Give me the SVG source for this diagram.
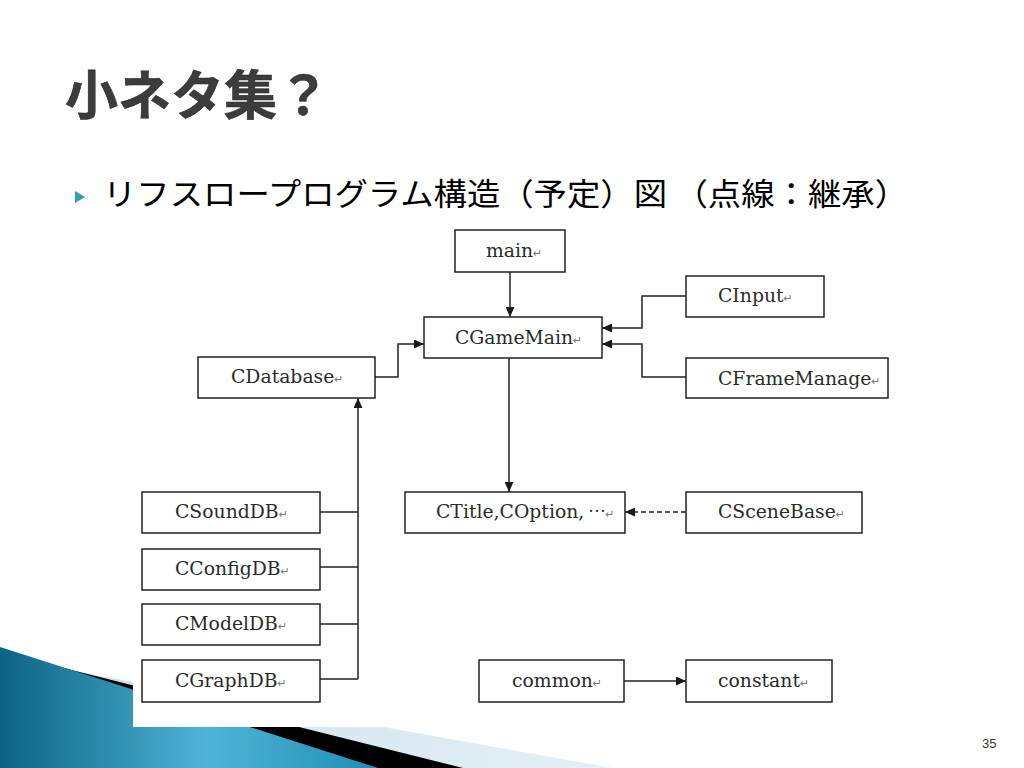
<svg xmlns="http://www.w3.org/2000/svg" width="1024" height="768" viewBox="0 0 1024 768">
<defs>
<linearGradient id="blueG" x1="0" y1="0" x2="1" y2="0">
<stop offset="0" stop-color="#0b6383"/>
<stop offset="0.55" stop-color="#4fb4d6"/>
<stop offset="1" stop-color="#1f8fb5"/>
</linearGradient>
<linearGradient id="lightG" x1="0" y1="0" x2="1" y2="0">
<stop offset="0" stop-color="#c9e0ec"/>
<stop offset="1" stop-color="#e4f0f6"/>
</linearGradient>
<marker id="arr" viewBox="0 0 10 9" refX="10" refY="4.5" markerWidth="10" markerHeight="9" markerUnits="userSpaceOnUse" orient="auto">
<path d="M0,0 L10,4.5 L0,9 z" fill="#1a1a1a"/>
</marker>
<style>
.box{fill:#fff;stroke:#222;stroke-width:1.5}
.lbl{font-family:"DejaVu Serif","Liberation Serif",serif;font-size:18.8px;fill:#2a2a2a}
.ret{font-family:"DejaVu Sans",sans-serif;font-size:11px;fill:#777}
.con{fill:none;stroke:#222;stroke-width:1.5}
.dash{stroke-dasharray:5,3}
</style>
</defs>
<rect width="1024" height="768" fill="#fff"/>
<!-- bottom-left decoration -->
<polygon points="0,658 612,768 0,768" fill="url(#lightG)"/>
<polygon points="0,652 463,768 0,768" fill="#000"/>
<polygon points="0,647 378,768 0,768" fill="url(#blueG)"/>
<!-- pasted diagram background -->
<rect x="133" y="222" width="790" height="505" fill="#fff"/>
<!-- title -->
<text x="65" y="115" font-family="Noto Sans CJK JP, sans-serif" font-weight="bold" font-size="53" fill="#3c3c3c" stroke="#2a2a2a" stroke-width="0.6">小ネタ集？</text>
<!-- bullet -->
<polygon points="75,191 85,197 75,203" fill="#2e9dbb"/>
<text x="103" y="205" font-family="Noto Sans CJK JP, sans-serif" font-size="31" fill="#000" textLength="805" lengthAdjust="spacingAndGlyphs">リフスロープログラム構造（予定）図 （点線：継承）</text>
<!-- connectors -->
<g id="connectors">
<path class="con" d="M510,272 V317" marker-end="url(#arr)"/>
<path class="con" d="M509,358 V492" marker-end="url(#arr)"/>
<path class="con" d="M686,296 H642 V328 H602" marker-end="url(#arr)"/>
<path class="con" d="M686,377 H642 V344 H602" marker-end="url(#arr)"/>
<path class="con" d="M375,377 H398 V344 H424" marker-end="url(#arr)"/>
<path class="con" d="M320,512 H358 M320,567 H358 M320,624 H358 M320,679 H358"/>
<path class="con" d="M358,679 V398" marker-end="url(#arr)"/>
<path class="con dash" d="M686,512 H625" marker-end="url(#arr)"/>
<path class="con" d="M624,681 H686" marker-end="url(#arr)"/>
</g>
<!-- nodes -->
<g id="main"><rect class="box" x="455" y="230" width="110" height="42"/><text class="lbl" x="486" y="257">main<tspan class="ret">↵</tspan></text></g>
<g id="CGameMain"><rect class="box" x="424" y="317" width="178" height="41"/><text class="lbl" x="455" y="344">CGameMain<tspan class="ret">↵</tspan></text></g>
<g id="CInput"><rect class="box" x="686" y="276" width="138" height="41"/><text class="lbl" x="718" y="302">CInput<tspan class="ret">↵</tspan></text></g>
<g id="CFrameManage"><rect class="box" x="686" y="358" width="202" height="40"/><text class="lbl" x="718" y="385">CFrameManage<tspan class="ret">↵</tspan></text></g>
<g id="CDatabase"><rect class="box" x="198" y="357" width="177" height="41"/><text class="lbl" x="231" y="383">CDatabase<tspan class="ret">↵</tspan></text></g>
<g id="CSoundDB"><rect class="box" x="142" y="492" width="178" height="41"/><text class="lbl" x="175" y="518">CSoundDB<tspan class="ret">↵</tspan></text></g>
<g id="CConfigDB"><rect class="box" x="142" y="549" width="178" height="41"/><text class="lbl" x="175" y="575">CConfigDB<tspan class="ret">↵</tspan></text></g>
<g id="CModelDB"><rect class="box" x="142" y="604" width="178" height="41"/><text class="lbl" x="175" y="630">CModelDB<tspan class="ret">↵</tspan></text></g>
<g id="CGraphDB"><rect class="box" x="142" y="660" width="178" height="42"/><text class="lbl" x="175" y="687">CGraphDB<tspan class="ret">↵</tspan></text></g>
<g id="CTitle"><rect class="box" x="405" y="492" width="220" height="41"/><text class="lbl" x="436" y="518">CTitle,COption,<tspan dx="4" dy="-6" font-family="Noto Sans CJK JP, sans-serif" font-size="16">…</tspan><tspan class="ret" dy="6">↵</tspan></text></g>
<g id="CSceneBase"><rect class="box" x="686" y="492" width="176" height="41"/><text class="lbl" x="718" y="518">CSceneBase<tspan class="ret">↵</tspan></text></g>
<g id="common"><rect class="box" x="479" y="660" width="145" height="42"/><text class="lbl" x="512" y="687">common<tspan class="ret">↵</tspan></text></g>
<g id="constant"><rect class="box" x="686" y="660" width="146" height="42"/><text class="lbl" x="718" y="687">constant<tspan class="ret">↵</tspan></text></g>
<!-- page number -->
<text x="982" y="748" font-family="Liberation Sans, sans-serif" font-size="13" fill="#333">35</text>
</svg>
